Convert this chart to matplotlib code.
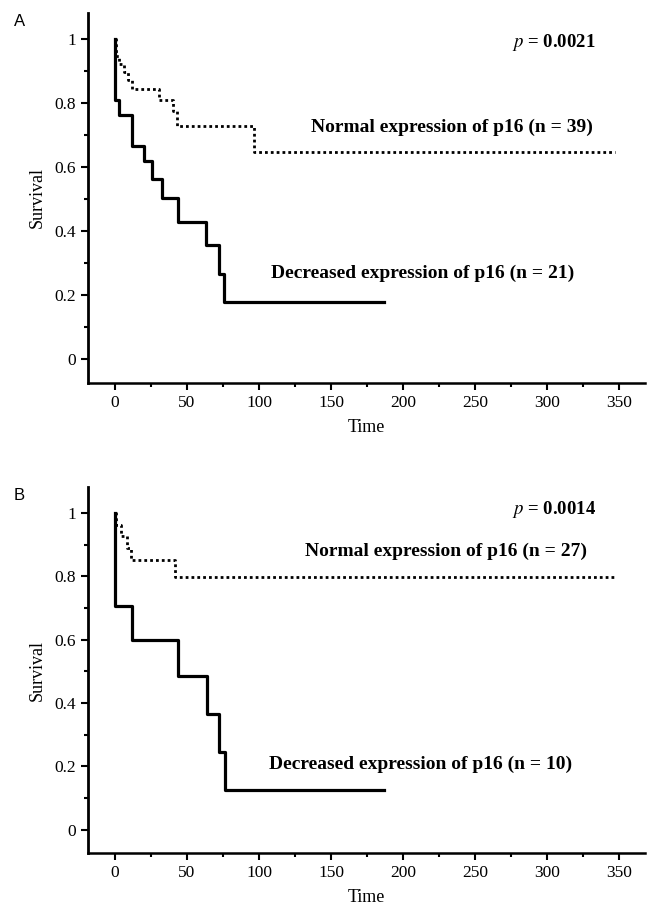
from matplotlib import pyplot as plt
import matplotlib as mpl
from matplotlib.ticker import MultipleLocator, FixedLocator, FixedFormatter

########################################################################
#STYLE
mpl.rcParams['font.family'] = ['Liberation Serif', 'DejaVu Serif']
mpl.rcParams['mathtext.fontset'] = 'stix'
mpl.rcParams['font.size'] = 12
mpl.rcParams['xtick.labelsize'] = 12.5
mpl.rcParams['ytick.labelsize'] = 12.5
mpl.rcParams['axes.labelsize'] = 13
########################################################################

#Data
a_dec_time = [0, 3, 12, 20, 25.5, 32.5, 43.5, 63, 72, 76, 187]
a_dec_surv = [0.81, 0.762, 0.667, 0.619, 0.562, 0.505, 0.429, 0.357, 0.268, 0.179, 0.179]
a_norm_time = [1, 3, 6, 9, 12, 30.5, 40.5, 43, 96.5, 347]
a_norm_surv = [0.949, 0.923, 0.897, 0.872, 0.846, 0.81, 0.777, 0.728, 0.648, 0.648]

b_dec_time = [0, 12, 44, 64, 72.5, 76.5, 187]
b_dec_surv = [0.705, 0.60, 0.485, 0.365, 0.245, 0.125, 0.125]
b_norm_time = [1, 4, 8, 11, 42, 347]
b_norm_surv = [0.963, 0.926, 0.889, 0.852, 0.798, 0.798]

y_ticks = [0, 0.2, 0.4, 0.6, 0.8, 1]
y_ticklabels = ['0', '0.2', '0.4', '0.6', '0.8', '1']
x_ticks = [0, 50, 100, 150, 200, 250, 300, 350]

panels = [
    {'tag': 'A', 'dec_t': a_dec_time, 'dec_s': a_dec_surv, 'norm_t': a_norm_time, 'norm_s': a_norm_surv,
     'p': '0.0021', 'n_norm': 39, 'n_dec': 21},
    {'tag': 'B', 'dec_t': b_dec_time, 'dec_s': b_dec_surv, 'norm_t': b_norm_time, 'norm_s': b_norm_surv,
     'p': '0.0014', 'n_norm': 27, 'n_dec': 10},
]

fig = plt.figure(figsize=(6.49, 9.22), dpi=100)
ax1 = fig.add_axes([0.1356, 0.5846, 0.858, 0.4013])
ax2 = fig.add_axes([0.1356, 0.0748, 0.858, 0.397])

# text positions per panel (data coords)
txt_pos = {'A': {'p': (334, 0.99), 'norm': (234, 0.725), 'dec': (214, 0.27)},
           'B': {'p': (334, 1.01), 'norm': (230, 0.88), 'dec': (212, 0.205)}}

for ax, pn in zip([ax1, ax2], panels):
    ax.step([0] + pn['norm_t'], [1.0] + pn['norm_s'], where='post', c='k', lw=2.0,
            linestyle=(0, (1, 1.1)), dash_capstyle='butt')
    ax.step([0] + pn['dec_t'], [1.0] + pn['dec_s'], where='post', c='k', lw=2.3)

    ax.set_xlim(-18.75, 368)
    ax.set_ylim(-0.074, 1.082)

    ax.spines['top'].set_visible(False)
    ax.spines['right'].set_visible(False)
    ax.spines['left'].set_linewidth(2.0)
    ax.spines['bottom'].set_linewidth(1.8)

    ax.yaxis.set_major_locator(FixedLocator(y_ticks))
    ax.yaxis.set_major_formatter(FixedFormatter(y_ticklabels))
    ax.yaxis.set_minor_locator(MultipleLocator(0.1))
    ax.xaxis.set_major_locator(FixedLocator(x_ticks))
    ax.xaxis.set_minor_locator(MultipleLocator(25))
    ax.tick_params(which='major', length=5, width=1.5, direction='out')
    ax.tick_params(which='minor', length=3, width=1.5, direction='out')

    ax.set_ylabel('Survival', labelpad=6)
    ax.set_xlabel('Time', labelpad=6)

    tp = txt_pos[pn['tag']]
    ax.text(tp['p'][0], tp['p'][1], r'$p$ = ' + pn['p'],
            ha='right', va='center', fontsize=13.5, fontweight='bold')
    ax.text(tp['norm'][0], tp['norm'][1], 'Normal expression of p16 (n = %d)' % pn['n_norm'],
            ha='center', va='center', fontweight='bold', fontsize=14)
    ax.text(tp['dec'][0], tp['dec'][1], 'Decreased expression of p16 (n = %d)' % pn['n_dec'],
            ha='center', va='center', fontweight='bold', fontsize=14)

fig.text(14 / 649, 1 - 22 / 922, 'A', family='Liberation Sans', fontsize=12, ha='left', va='center')
fig.text(14 / 649, 1 - 495 / 922, 'B', family='Liberation Sans', fontsize=12, ha='left', va='center')

plt.savefig('out.png', dpi=100)
